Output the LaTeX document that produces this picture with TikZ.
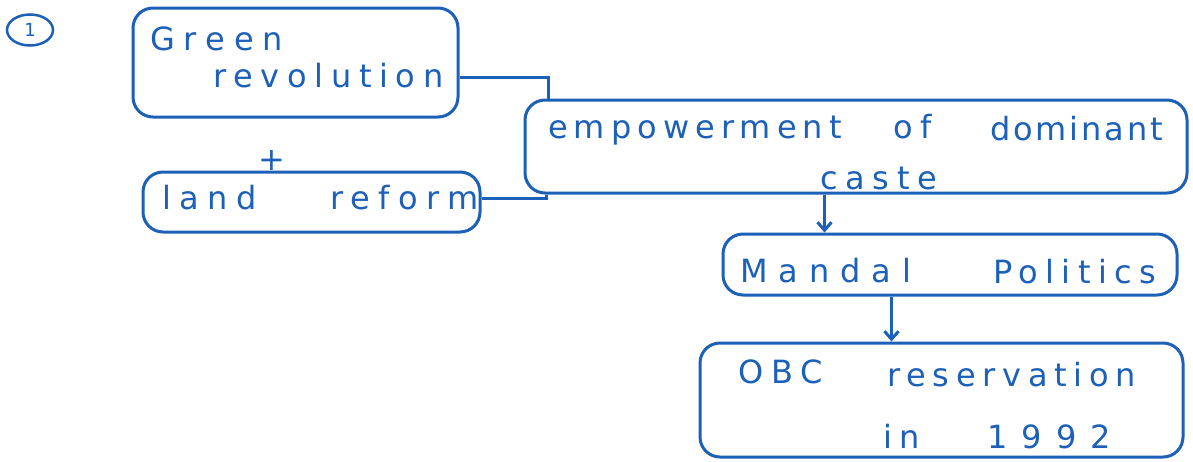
\documentclass[tikz,border=0pt]{standalone}
\usepackage{fontspec}
\setmainfont{DejaVu Sans}[LetterSpace=24]
\usetikzlibrary{calc,arrows.meta,shapes.geometric}
\definecolor{ink}{RGB}{28,96,184}
\newcommand{\hw}[1]{\fontsize{32}{34}\selectfont\addfontfeature{LetterSpace=#1}}
\begin{document}
\begin{tikzpicture}[x=1pt,y=-1pt,
  box/.style={draw=ink, line width=3pt, rounded corners=20pt, inner sep=0pt},
  txt/.style={text=ink, font=\fontsize{32}{34}\selectfont, inner sep=0pt, anchor=base west},
  link/.style={draw=ink, line width=3pt},
  arr/.style={draw=ink, line width=3pt, -{Straight Barb[length=8pt,width=14pt]}}]
\fill[white] (0,0) rectangle (1193,461);
\useasboundingbox (0,0) rectangle (1193,461);
% boxes
\node[box, minimum width=325pt, minimum height=109pt] (gr) at (295.5,62.5) {};
\node[box, minimum width=337pt, minimum height=60pt] (lr) at (311.5,202) {};
\node[box, minimum width=662pt, minimum height=93pt] (emp) at (856,146.5) {};
\node[box, minimum width=454pt, minimum height=61pt] (md) at (950,264.5) {};
\node[box, minimum width=483pt, minimum height=114pt] (obc) at (941.5,400) {};
% number
\node[draw=ink, line width=2.5pt, ellipse, minimum width=46pt, minimum height=31pt, inner sep=0pt,
      text=ink, font=\fontsize{18}{20}\selectfont] (num) at (30,30) {1};
% texts
\node[txt, font=\hw{28}] (t1) at (150,50) {Green};
\node[txt, font=\hw{24}] (t2) at (213,87) {revolution};
\node[txt, anchor=center] (plus) at (272,160) {+};
\node[txt, font=\hw{27}] (t3a) at (162,209) {land};
\node[txt, font=\hw{26}] (t3b) at (330,209) {reform};
\node[txt, font=\hw{19}] (t4a) at (548,138) {empowerment};
\node[txt, font=\hw{24}] (t4b) at (893,138) {of};
\node[txt, font=\hw{9}] (t4c) at (990,140) {dominant};
\node[txt, font=\hw{24}] (t5) at (820,189) {caste};
\node[txt, font=\hw{34}] (t6a) at (740,282) {Mandal};
\node[txt, font=\hw{23}] (t6b) at (993,283) {Politics};
\node[txt, font=\hw{24}] (t7a) at (738,383) {OBC};
\node[txt, font=\hw{21}] (t7b) at (887,386) {reservation};
\node[txt, font=\hw{24}] (t8a) at (883,448) {in};
\node[txt, font=\hw{44}] (t8b) at (987,448) {1992};
% connectors
\coordinate (grout) at ($(gr.east)+(0,14.5)$);
\coordinate (lrout) at ($(lr.east)+(0,-4)$);
\coordinate (empin1) at ($(emp.north west)+(25,0)$);
\coordinate (empin2) at ($(emp.south west)+(23,0)$);
\draw[link] (grout) -| (empin1);
\draw[link] (lrout) -| (empin2);
\draw[arr] ($(emp.south west)+(301,0)$) -- ($(md.north west)+(103,0)$);
\draw[arr] ($(md.south west)+(170,0)$) -- ($(obc.north west)+(193,0)$);
\end{tikzpicture}
\end{document}
